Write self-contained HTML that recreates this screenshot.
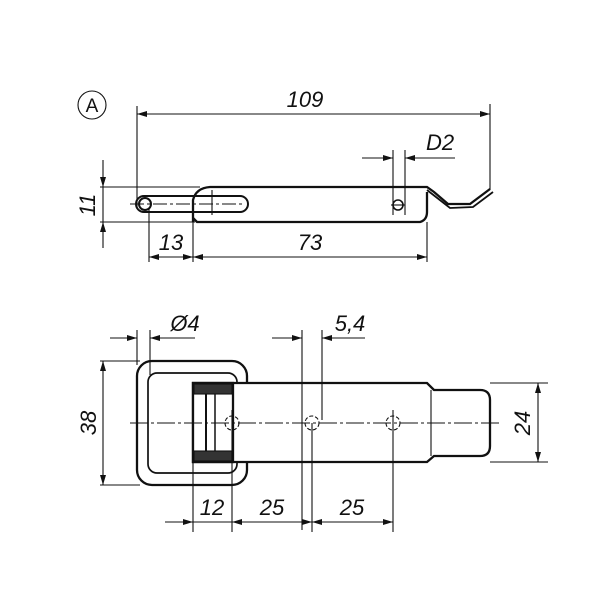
<!DOCTYPE html>
<html><head><style>body{margin:0;background:#fff}svg{display:block}text{font-family:"Liberation Sans",sans-serif;font-style:italic;font-size:22px;fill:#111}</style></head><body>
<svg width="600" height="600" viewBox="0 0 600 600" xmlns="http://www.w3.org/2000/svg">
<defs><marker id="a" viewBox="0 0 10 6" refX="10" refY="3" markerWidth="11" markerHeight="6" orient="auto-start-reverse" markerUnits="userSpaceOnUse"><path d="M0,0L10,3L0,6z" fill="#111"/></marker></defs>
<g stroke="#111" fill="none" stroke-width="1.1">
<!-- top view -->
<circle cx="92" cy="105" r="14"/>
<line x1="137" y1="114" x2="490" y2="114" marker-start="url(#a)" marker-end="url(#a)"/>
<line x1="137" y1="106" x2="137" y2="208"/><line x1="490" y1="104" x2="490" y2="190"/>
<line x1="100" y1="187" x2="200" y2="187"/><line x1="100" y1="222" x2="195" y2="222"/>
<line x1="103" y1="160" x2="103" y2="187" marker-end="url(#a)"/><line x1="103" y1="248" x2="103" y2="222" marker-end="url(#a)"/>
<line x1="103" y1="187" x2="103" y2="222"/>
<path d="M193,222 L193,200 Q196,188 210,187 L427,187 L434,192 L448,204 L470,204 L490,189" stroke-width="2.3"/>
<path d="M193,218 L197,222 L420,222 Q427,220 427,212 L427,192" stroke-width="2.3"/>
<path d="M427,190 L450,208 L473,207 L493,192" stroke-width="1.8"/>
<rect x="136" y="196" width="112" height="16" rx="8" stroke-width="2"/>
<circle cx="145" cy="204" r="6" stroke-width="2"/>
<line x1="130" y1="204" x2="245" y2="204" stroke-dasharray="14,3,3,3"/>
<line x1="212" y1="190" x2="212" y2="215"/>
<line x1="149" y1="208" x2="149" y2="262"/><line x1="193" y1="222" x2="193" y2="262"/><line x1="427" y1="222" x2="427" y2="262"/>
<line x1="149" y1="257" x2="193" y2="257" marker-start="url(#a)" marker-end="url(#a)"/>
<line x1="193" y1="257" x2="427" y2="257" marker-start="url(#a)" marker-end="url(#a)"/>
<circle cx="398" cy="205" r="5" stroke-width="1.6"/>
<line x1="393" y1="150" x2="393" y2="215"/><line x1="405" y1="150" x2="405" y2="215"/>
<line x1="391" y1="205" x2="405" y2="205"/>
<line x1="362" y1="158" x2="393" y2="158" marker-end="url(#a)"/><line x1="455" y1="158" x2="405" y2="158" marker-end="url(#a)"/>
<!-- bottom view -->
<rect x="137" y="361" width="110" height="124" rx="15" stroke-width="2.3"/>
<rect x="148" y="373" width="89" height="100" rx="9" stroke-width="1.7"/>
<path d="M193,383 L427,383 L434,390 L480,390 Q490,390 490,400 L490,446 Q490,456 480,456 L434,456 L427,462 L193,462 Z" stroke-width="2.3" fill="#fff"/>
<line x1="431" y1="390" x2="431" y2="456"/>
<rect x="193" y="383" width="40" height="79" fill="#fff" stroke-width="2.3"/>
<rect x="194" y="384" width="38" height="10" fill="#333"/><rect x="194" y="451" width="38" height="10" fill="#333"/>
<line x1="206" y1="394" x2="206" y2="451" stroke-width="2"/><line x1="215" y1="394" x2="215" y2="451" stroke-width="1.5"/>
<line x1="130" y1="423" x2="500" y2="423" stroke-dasharray="18,3,3,3"/>
<circle cx="232" cy="423" r="7" stroke-dasharray="4,2"/><circle cx="312" cy="423" r="7" stroke-dasharray="4,2"/><circle cx="393" cy="423" r="7" stroke-dasharray="4,2"/>
<line x1="100" y1="361" x2="140" y2="361"/><line x1="100" y1="485" x2="140" y2="485"/>
<line x1="103" y1="361" x2="103" y2="485" marker-start="url(#a)" marker-end="url(#a)"/>
<line x1="490" y1="383" x2="548" y2="383"/><line x1="490" y1="462" x2="548" y2="462"/>
<line x1="538" y1="383" x2="538" y2="462" marker-start="url(#a)" marker-end="url(#a)"/>
<line x1="137" y1="330" x2="137" y2="365"/><line x1="150" y1="330" x2="150" y2="375"/>
<line x1="110" y1="338" x2="137" y2="338" marker-end="url(#a)"/><line x1="195" y1="338" x2="150" y2="338" marker-end="url(#a)"/>
<line x1="302" y1="330" x2="302" y2="530"/><line x1="322" y1="330" x2="322" y2="420"/>
<line x1="272" y1="338" x2="302" y2="338" marker-end="url(#a)"/><line x1="365" y1="338" x2="322" y2="338" marker-end="url(#a)"/>
<line x1="193" y1="462" x2="193" y2="532"/><line x1="232" y1="410" x2="232" y2="532"/><line x1="312" y1="423" x2="312" y2="532"/><line x1="393" y1="410" x2="393" y2="532"/>
<line x1="165" y1="522" x2="193" y2="522" marker-end="url(#a)"/>
<line x1="193" y1="522" x2="232" y2="522"/>
<line x1="232" y1="522" x2="312" y2="522" marker-start="url(#a)" marker-end="url(#a)"/>
<line x1="312" y1="522" x2="393" y2="522" marker-start="url(#a)" marker-end="url(#a)"/>
</g>
<text x="92" y="112" text-anchor="middle" style="font-style:normal;font-size:19px">A</text>
<text x="305" y="107" text-anchor="middle">109</text>
<text x="440" y="150" text-anchor="middle">D2</text>
<text x="95" y="205" text-anchor="middle" transform="rotate(-90 95 205)">11</text>
<text x="171" y="250" text-anchor="middle">13</text>
<text x="310" y="250" text-anchor="middle">73</text>
<text x="185" y="331" text-anchor="middle">Ø4</text>
<text x="350" y="331" text-anchor="middle">5,4</text>
<text x="96" y="423" text-anchor="middle" transform="rotate(-90 96 423)">38</text>
<text x="530" y="423" text-anchor="middle" transform="rotate(-90 530 423)">24</text>
<text x="212" y="515" text-anchor="middle">12</text>
<text x="272" y="515" text-anchor="middle">25</text>
<text x="352" y="515" text-anchor="middle">25</text>
</svg></body></html>
